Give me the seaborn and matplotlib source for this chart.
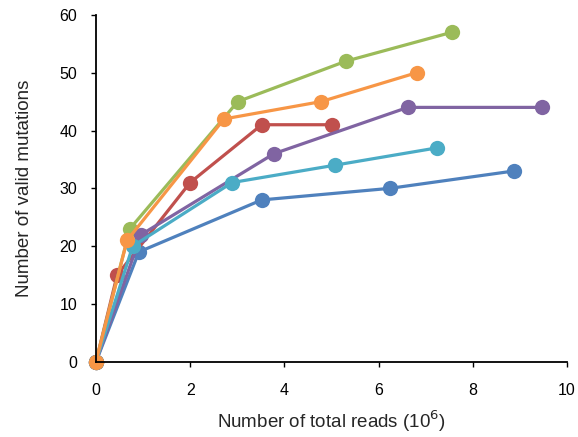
import pandas as pd
import matplotlib.pyplot as plt
import seaborn as sns

# reads (10^6) and valid mutations per sample
blue_x = [0, 0.91, 3.52, 6.24, 8.87]
blue_y = [0, 19, 28, 30, 33]
red_x = [0, 0.45, 2.0, 3.52, 5.01]
red_y = [0, 15, 31, 41, 41]
green_x = [0, 0.72, 3.01, 5.31, 7.56]
green_y = [0, 23, 45, 52, 57]
purple_x = [0, 0.96, 3.78, 6.62, 9.47]
purple_y = [0, 22, 36, 44, 44]
cyan_x = [0, 0.78, 2.89, 5.07, 7.24]
cyan_y = [0, 20, 31, 34, 37]
orange_x = [0, 0.66, 2.72, 4.78, 6.81]
orange_y = [0, 21, 42, 45, 50]

series = {
    'blue': (blue_x, blue_y, '#4F81BD'),
    'red': (red_x, red_y, '#C0504D'),
    'green': (green_x, green_y, '#9BBB59'),
    'purple': (purple_x, purple_y, '#8064A2'),
    'cyan': (cyan_x, cyan_y, '#4BACC6'),
    'orange': (orange_x, orange_y, '#F79646'),
}

rows = []
for name, (xs, ys, _) in series.items():
    for x, y in zip(xs, ys):
        rows.append({'sample': name, 'reads': x, 'mutations': y})
df = pd.DataFrame(rows)
palette = {k: v[2] for k, v in series.items()}

sns.set_style('ticks')
plt.rcParams['font.family'] = ['Liberation Sans', 'DejaVu Sans']

fig = plt.figure(figsize=(5.78, 4.37), dpi=100)
ax = fig.add_axes([0.166, 0.172, 0.815, 0.794])

sns.lineplot(data=df, x='reads', y='mutations', hue='sample', palette=palette,
             marker='o', markersize=11, markeredgewidth=0, linewidth=2.3,
             sort=False, legend=False, ax=ax, clip_on=False)

ax.set_xlim(0, 10)
ax.set_ylim(0, 60)
ax.set_xticks(range(0, 11, 2))
ax.set_yticks(range(0, 61, 10))
ax.tick_params(axis='both', labelsize=11.5, length=3.5, width=1, colors='black')
ax.tick_params(axis='x', pad=12)
ax.tick_params(axis='y', pad=10)
ax.spines['top'].set_visible(False)
ax.spines['right'].set_visible(False)
for s in ['left', 'bottom']:
    ax.spines[s].set_color('black')
    ax.spines[s].set_linewidth(1.3)

ax.set_xlabel('Number of total reads (10$^6$)', fontsize=13.5, labelpad=7)
ax.set_ylabel('Number of valid mutations', fontsize=13.5, labelpad=19)

plt.savefig('out.png', dpi=100)
